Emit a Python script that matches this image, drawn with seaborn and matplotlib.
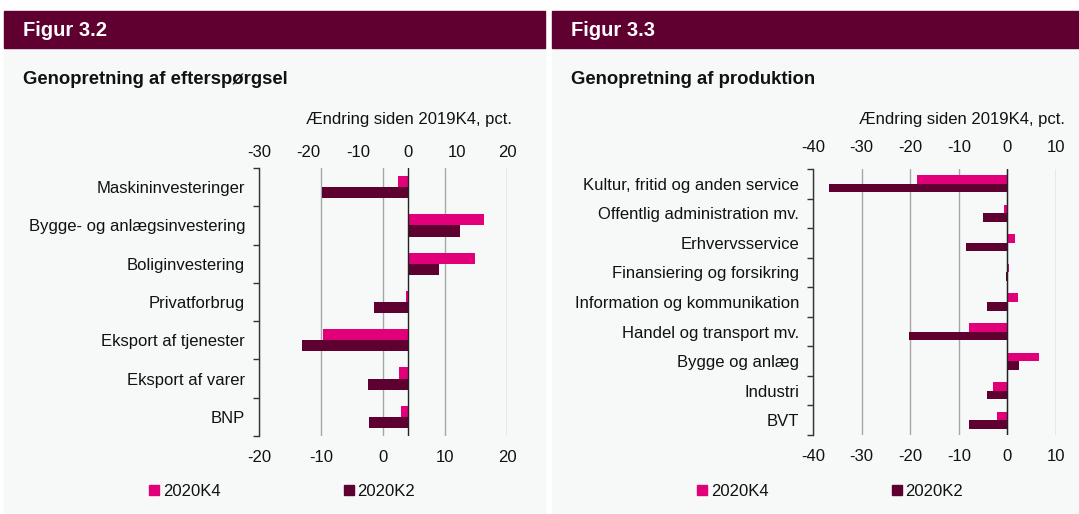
import numpy as np
import pandas as pd
import matplotlib
matplotlib.use("Agg")
import matplotlib.pyplot as plt
from matplotlib.patches import Rectangle
from matplotlib.lines import Line2D
import seaborn as sns

# ---------- data ----------
dem_cats = ["Maskininvesteringer", "Bygge- og anlægsinvestering", "Boliginvestering",
            "Privatforbrug", "Eksport af tjenester", "Eksport af varer", "BNP"]
dem_k4 = [-2.0, 15.3, 13.5, -0.4, -17.1, -1.8, -1.4]
dem_k2 = [-17.3, 10.5, 6.3, -6.9, -21.4, -8.1, -7.9]

prod_cats = ["Kultur, fritid og anden service", "Offentlig administration mv.",
             "Erhvervsservice", "Finansiering og forsikring",
             "Information og kommunikation", "Handel og transport mv.",
             "Bygge og anlæg", "Industri", "BVT"]
prod_k4 = [-18.6, -0.7, 1.5, 0.3, 2.1, -8.0, 6.5, -2.9, -2.1]
prod_k2 = [-36.8, -5.1, -8.6, -0.3, -4.3, -20.2, 2.3, -4.3, -8.0]

series = ["2020K4", "2020K2"]
unit_label = "Ændring siden 2019K4, pct."

PINK = "#E2007A"
DARK = "#5E0030"
BAND = "#600030"
PANEL = "#F7F9F9"
GRID = "#A6A6A6"
TXT = "#111111"
FS = 12


def long_df(cats, k4, k2):
    return pd.DataFrame({
        "kat": cats * 2,
        "serie": [series[0]] * len(cats) + [series[1]] * len(cats),
        "val": k4 + k2,
    })


sns.set_theme(style="white")
plt.rcParams["font.family"] = ["Liberation Sans", "DejaVu Sans"]
plt.rcParams["font.size"] = FS
plt.rcParams["text.color"] = TXT
plt.rcParams["axes.unicode_minus"] = False

W, H = 1079, 514
fig = plt.figure(figsize=(W / 100, H / 100), dpi=100, facecolor="white")


def px(x0, y0, x1, y1):
    # pixel box (top-left origin) -> figure fraction rect
    return [x0 / W, 1 - y1 / H, (x1 - x0) / W, (y1 - y0) / H]


# panel backgrounds and header bands
for x0, x1, fig_no in [(4, 545, "Figur 3.2"), (552, 1079, "Figur 3.3")]:
    fig.patches.append(Rectangle((x0 / W, 0), (x1 - x0) / W, 1 - 48 / H,
                                 transform=fig.transFigure, color=PANEL, zorder=-5))
    fig.patches.append(Rectangle((x0 / W, 1 - 48 / H), (x1 - x0) / W, 37 / H,
                                 transform=fig.transFigure, color=BAND, zorder=-5))
    fig.text((x0 + 19) / W, 1 - 30 / H, fig_no, color="white", fontsize=14.5,
             fontweight="bold", va="center", ha="left")

fig.text(23 / W, 1 - 80 / H, "Genopretning af efterspørgsel", fontsize=13.3,
         fontweight="bold", va="center", ha="left")
fig.text(571 / W, 1 - 80 / H, "Genopretning af produktion", fontsize=13.3,
         fontweight="bold", va="center", ha="left")
fig.text(512 / W, 1 - 119 / H, unit_label, fontsize=FS, va="center", ha="right")
fig.text(1065 / W, 1 - 119 / H, unit_label, fontsize=FS, va="center", ha="right")


def style_cat_axis(ax, n):
    ax.set_yticks(np.arange(n))
    ax.set_yticks(np.arange(n + 1) - 0.5, minor=True)
    ax.tick_params(axis="y", which="major", length=0, pad=10, labelsize=FS,
                   colors=TXT)
    ax.tick_params(axis="y", which="minor", length=4, width=1, direction="out",
                   color="#333333", left=True)
    ax.set_ylim(n - 0.5, -0.5)
    for s in ["top", "right", "bottom"]:
        ax.spines[s].set_visible(False)
    ax.spines["left"].set_color("#333333")
    ax.spines["left"].set_linewidth(1)


def add_legend(ax, x_px):
    handles = [Line2D([], [], marker="s", ls="", color=PINK, markersize=7),
               Line2D([], [], marker="s", ls="", color=DARK, markersize=7)]
    ax.legend(handles, series, loc="center left", ncol=2, frameon=False,
              bbox_to_anchor=(x_px / W, 1 - 491 / H), bbox_transform=fig.transFigure,
              columnspacing=7.2, handletextpad=0.0, handlelength=1.0,
              borderpad=0, borderaxespad=0, fontsize=FS)


# ---------- left: demand ----------
ax = fig.add_axes(px(259, 168, 507, 436))
ax.patch.set_visible(False)
ax.set_xlim(-20, 20)
ax.set_xticks(np.arange(-20, 21, 10))
ax.xaxis.grid(True, color=GRID, lw=1)
ax.tick_params(axis="x", length=0, pad=10, labelsize=FS, colors=TXT)

axb = ax.twiny()
axb.patch.set_visible(False)
sns.barplot(data=long_df(dem_cats, dem_k4, dem_k2), y="kat", x="val", hue="serie",
            hue_order=series, order=dem_cats, palette=[PINK, DARK], orient="h",
            width=0.58, ax=axb, legend=False, saturation=1, edgecolor="none")
axb.set_xlim(-30, 20)
axb.set_xticks(np.arange(-30, 21, 10))
axb.tick_params(axis="x", length=0, pad=6, labelsize=FS, colors=TXT)
axb.axvline(0, color="#222222", lw=1, zorder=5)
axb.set_xlabel("")
axb.set_ylabel("")
for s in axb.spines.values():
    s.set_visible(False)
style_cat_axis(ax, len(dem_cats))
ax.set_yticklabels(dem_cats)
ax.set_xlabel("")
ax.set_ylabel("")
add_legend(ax, 146)

# ---------- right: production ----------
ax2 = fig.add_axes(px(813, 169, 1056, 435))
ax2.patch.set_visible(False)
sns.barplot(data=long_df(prod_cats, prod_k4, prod_k2), y="kat", x="val", hue="serie",
            hue_order=series, order=prod_cats, palette=[PINK, DARK], orient="h",
            width=0.58, ax=ax2, legend=False, saturation=1, edgecolor="none")
ax2.set_xlim(-40, 10)
ax2.set_xticks(np.arange(-40, 11, 10))
ax2.xaxis.grid(True, color=GRID, lw=1)
ax2.set_axisbelow(True)
ax2.tick_params(axis="x", which="both", length=0, labelsize=FS, colors=TXT,
                labeltop=True, pad=10)
ax2.axvline(0, color="#222222", lw=1, zorder=5)
style_cat_axis(ax2, len(prod_cats))
ax2.set_yticklabels(prod_cats)
ax2.set_xlabel("")
ax2.set_ylabel("")
add_legend(ax2, 694)

fig.savefig("out.png", dpi=100, facecolor="white")
